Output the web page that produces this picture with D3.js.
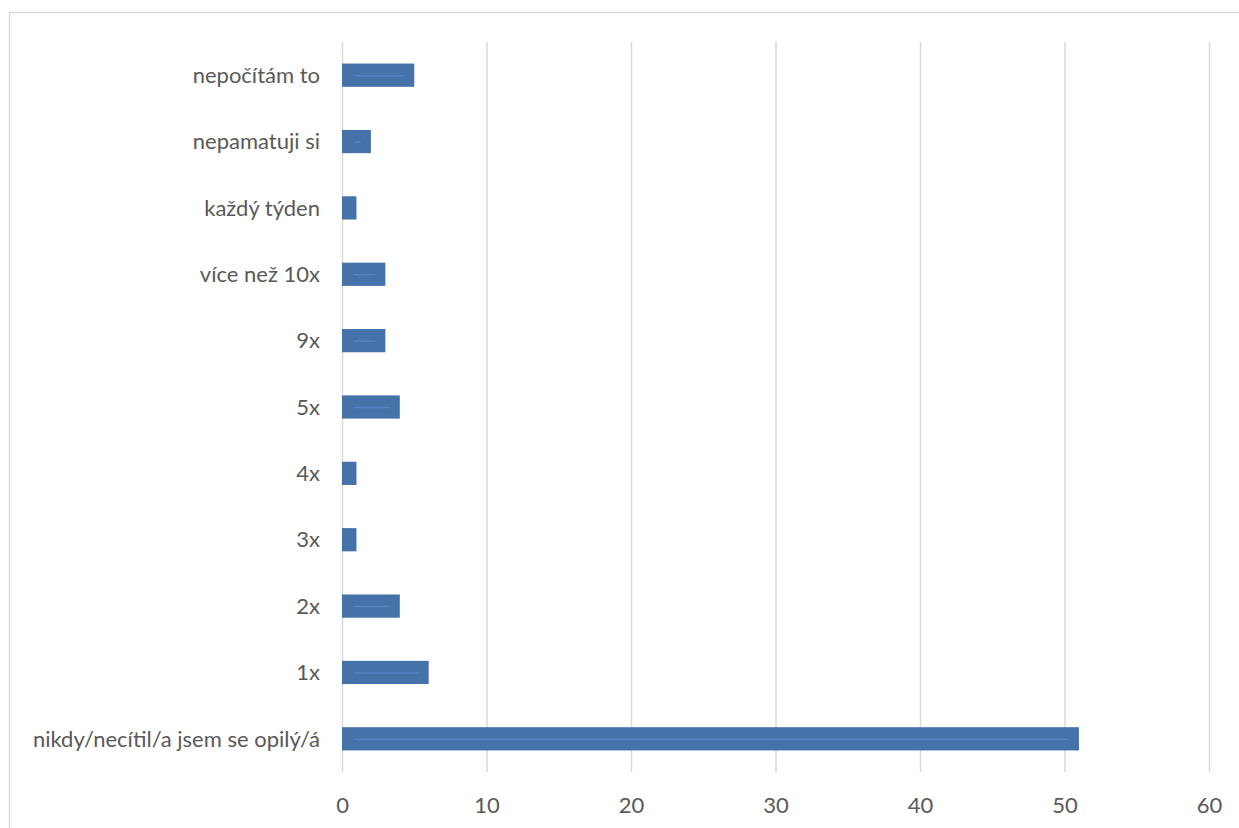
<!DOCTYPE html>
<html>
<head>
<meta charset="utf-8">
<script src="https://cdn.jsdelivr.net/npm/d3@7"></script>
<style>
  html, body { margin: 0; padding: 0; background: #fff; }
  svg { display: block; }
</style>
</head>
<body>
<svg id="chart" width="1239" height="828"></svg>
<script>
// Categories, top to bottom
const categories = [
  "nepočítám to",
  "nepamatuji si",
  "každý týden",
  "více než 10x",
  "9x",
  "5x",
  "4x",
  "3x",
  "2x",
  "1x",
  "nikdy/necítil/a jsem se opilý/á"
];
const values = [5, 2, 1, 3, 3, 4, 1, 1, 4, 6, 51];
const tickValues = [0, 10, 20, 30, 40, 50, 60];

const svg = d3.select("#chart");
const W = 1239, H = 828;
const FONT = "Lato, 'Open Sans', sans-serif";

// chart area frame (runs off the right and bottom edge)
svg.append("rect")
  .attr("x", 9.5).attr("y", 12.5)
  .attr("width", W + 10).attr("height", H + 10)
  .attr("fill", "#fff")
  .attr("stroke", "#d9d9d9").attr("stroke-width", 1.5);

const plot = { left: 342, right: 1209, top: 42, bottom: 772 };

const x = d3.scaleLinear().domain([0, 60]).range([plot.left, plot.right]);
const y = d3.scaleBand().domain(categories).range([plot.top, plot.bottom]).paddingInner(0.65).paddingOuter(0.325);

// vertical gridlines
svg.append("g").selectAll("line").data(tickValues).join("line")
  .attr("x1", d => x(d) + 0.5).attr("x2", d => x(d) + 0.5)
  .attr("y1", plot.top).attr("y2", plot.bottom)
  .attr("stroke", "#d9d9d9").attr("stroke-width", 1.5);

// bars
const bars = svg.append("g");
bars.selectAll("rect").data(values).join("rect")
  .attr("x", x(0))
  .attr("y", (d, i) => y(categories[i]))
  .attr("width", d => x(d) - x(0))
  .attr("height", y.bandwidth())
  .attr("fill", "#4672aa");

// faint highlight line through each bar
bars.selectAll("line").data(values).join("line")
  .attr("x1", x(0) + 12)
  .attr("x2", d => Math.max(x(0) + 12, x(d) - 10))
  .attr("y1", (d, i) => y(categories[i]) + y.bandwidth() / 2 + 0.5)
  .attr("y2", (d, i) => y(categories[i]) + y.bandwidth() / 2 + 0.5)
  .attr("stroke", "#5b8acb").attr("stroke-width", 1.5).attr("stroke-opacity", 0.7);

// x axis labels
const xAxis = d3.axisBottom(x).tickValues(tickValues).tickSize(0).tickPadding(0);
const gx = svg.append("g").attr("transform", `translate(0, ${plot.bottom + 41})`).call(xAxis);
gx.select(".domain").remove();
gx.selectAll("text")
  .attr("dy", 0)
  .attr("fill", "#595959")
  .style("font-family", FONT)
  .style("font-size", "22px");

// category labels
const yAxis = d3.axisLeft(y).tickSize(0).tickPadding(0);
const gy = svg.append("g").attr("transform", `translate(${plot.left - 22}, 0)`).call(yAxis);
gy.select(".domain").remove();
gy.selectAll("text")
  .attr("dy", "0.35em")
  .attr("fill", "#595959")
  .style("font-family", FONT)
  .style("font-size", "22px");
</script>
</body>
</html>
